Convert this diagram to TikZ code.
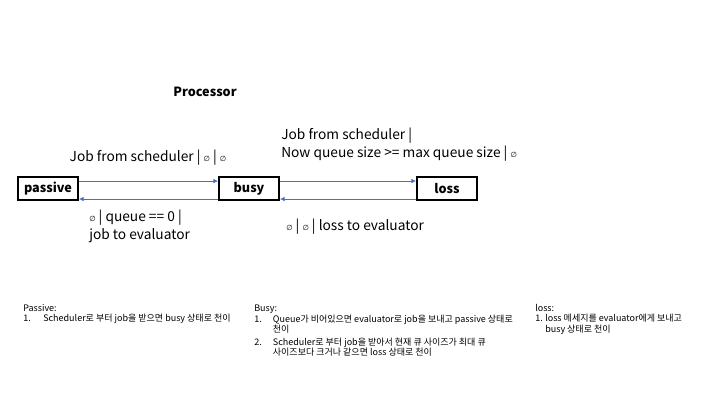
\documentclass[tikz,border=0pt]{standalone}
\usepackage{fontspec}
\setmainfont{Noto Sans CJK KR}
\newfontfamily\symfont{DejaVu Sans}
\usetikzlibrary{arrows.meta}
\definecolor{lineblue}{HTML}{4472C4}

% small empty-set mark used in the transition labels
\newcommand{\emptymark}{{\symfont\fontsize{5.5}{6}\selectfont ∅}}
% numbered note line with hanging indent
\newcommand{\noteitem}[3]{\par\hangindent=#1\hangafter=1\noindent\makebox[#1][l]{#2}#3}

\begin{document}
\begin{tikzpicture}[
  x=0.75pt, y=-0.75pt,
  state/.style={draw, line width=1.4pt, minimum width=45pt, minimum height=17.25pt,
    inner sep=0pt, font=\fontsize{9.5}{11}\selectfont\bfseries},
  trans/.style={-{Latex[length=3.5pt,width=3.5pt]}, lineblue, line width=0.6pt},
  lbl/.style={inner sep=0pt, align=left, font=\fontsize{10.3}{13.5}\selectfont},
  note/.style={inner sep=0pt, anchor=north west, font=\fontsize{6.75}{7.8}\selectfont}
]
  \useasboundingbox (0,0) rectangle (720,405);

  \node (title) [inner sep=0pt, font=\fontsize{9.5}{11}\selectfont\bfseries] at (205,92) {Processor};

  % states
  \node (pas) [state] at (48,188.5)  {passive};
  \node (bsy) [state] at (249,188.5) {busy};
  \node (los) [state] at (447,188.5) {loss};

  % transitions
  \draw[trans] ([yshift=5.6pt]pas.east) -- ([yshift=5.6pt]bsy.west);
  \draw[trans] ([yshift=-7.9pt]bsy.west) -- ([yshift=-7.9pt]pas.east);
  \draw[trans] ([yshift=5.6pt]bsy.east) -- ([yshift=5.6pt]los.west);
  \draw[trans] ([yshift=-7.9pt]los.west) -- ([yshift=-7.9pt]bsy.east);

  \node (pasbsy) [lbl] at (148,158) {Job from scheduler | \emptymark{} | \emptymark};
  \node (bsylos) [lbl, anchor=west] at (281,145)
    {Job from scheduler |\\Now queue size >= max queue size | \emptymark};
  \node (bsypas) [lbl, anchor=west] at (89,226)
    {\emptymark{} | queue == 0 |\\job to evaluator};
  \node (losbsy) [lbl, anchor=west] at (286,227)
    {\emptymark{} | \emptymark{} | loss to evaluator};

  % notes
  \node (npas) [note] at (23,304) {\parbox[t]{230pt}{%
    Passive:
    \noteitem{15pt}{1.}{Scheduler로 부터 job을 받으면 busy 상태로 천이}}};
  \node (nbsy) [note] at (254,305) {\parbox[t]{230pt}{%
    Busy:
    \noteitem{14pt}{1.}{Queue가 비어있으면 evaluator로 job을 보내고 passive 상태로\newline 천이}
    \vspace{1.5pt}
    \noteitem{14pt}{2.}{Scheduler로 부터 job을 받아서 현재 큐 사이즈가 최대 큐\newline 사이즈보다 크거나 같으면 loss 상태로 천이}}};
  \node (nlos) [note] at (535,304) {\parbox[t]{150pt}{%
    loss:
    \noteitem{7.5pt}{1.}{loss 메세지를 evaluator에게 보내고\newline busy 상태로 천이}}};
\end{tikzpicture}
\end{document}
